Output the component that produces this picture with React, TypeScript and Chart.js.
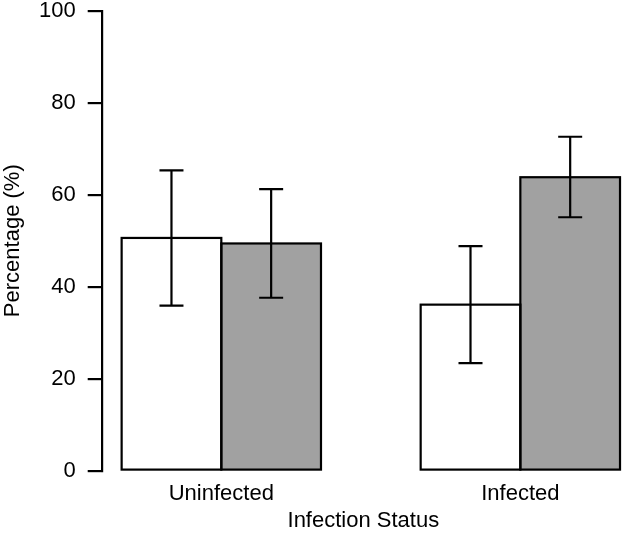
import React, { useEffect, useRef } from "react";
import { Chart, registerables } from "chart.js";

Chart.register(...registerables);

// ---- data ----
const categories = ["Uninfected", "Infected"];
const seriesNames = ["Series 1", "Series 2"];
const whiteMeans = [50.6, 36.1];
const whiteLower = [35.9, 23.4];
const whiteUpper = [65.3, 48.8];
const greyMeans = [49.4, 63.8];
const greyLower = [37.6, 55.1];
const greyUpper = [61.2, 72.6];
const yTickValues = [0, 20, 40, 60, 80, 100];

// ---- layout (R barplot style: bar width 1, one bar of space before each group) ----
const BAR_W = 1;
const GROUP_SPACE = 1;
const X_MIN = 0.8;
const X_MAX = 6.05;

const groupStart = (g: number) => GROUP_SPACE + g * (2 * BAR_W + GROUP_SPACE);
const groupCenters = categories.map((_, g) => groupStart(g) + BAR_W);

const FONT = '"Liberation Sans", Arial, Helvetica, sans-serif';
const FS = 22;
const LINE = 2.2;

const series = [
  { name: seriesNames[0], means: whiteMeans, lower: whiteLower, upper: whiteUpper, color: "#ffffff", slot: 0 },
  { name: seriesNames[1], means: greyMeans, lower: greyLower, upper: greyUpper, color: "#a1a1a1", slot: 1 },
];

const outlinesAndErrors = {
  id: "outlinesAndErrors",
  afterDatasetsDraw(chart: any) {
    const ctx = chart.ctx;
    const yScale = chart.scales.y;
    ctx.save();
    ctx.strokeStyle = "#000";
    ctx.lineWidth = LINE;
    ctx.lineCap = "butt";
    chart.data.datasets.forEach((ds: any, di: number) => {
      const meta = chart.getDatasetMeta(di);
      meta.data.forEach((el: any) => {
        const p = el.getProps(["x", "y", "base", "width"], true);
        const left = p.x - p.width / 2;
        ctx.strokeRect(left, p.y, p.width, p.base - p.y);
      });
    });
    chart.data.datasets.forEach((ds: any, di: number) => {
      const meta = chart.getDatasetMeta(di);
      meta.data.forEach((el: any, i: number) => {
        const p = el.getProps(["x"], true);
        const yl = yScale.getPixelForValue(ds.errLower[i]);
        const yu = yScale.getPixelForValue(ds.errUpper[i]);
        const cap = 12;
        ctx.beginPath();
        ctx.moveTo(p.x, yl);
        ctx.lineTo(p.x, yu);
        ctx.moveTo(p.x - cap, yl);
        ctx.lineTo(p.x + cap, yl);
        ctx.moveTo(p.x - cap, yu);
        ctx.lineTo(p.x + cap, yu);
        ctx.stroke();
      });
    });
    ctx.restore();
  },
};

export default function App() {
  const ref = useRef<HTMLCanvasElement | null>(null);

  useEffect(() => {
    if (!ref.current) return;
    const datasets = series.map((s) => ({
      label: s.name,
      data: s.means.map((v, g) => ({ x: groupStart(g) + s.slot * BAR_W + BAR_W / 2, y: v })),
      errLower: s.lower,
      errUpper: s.upper,
      backgroundColor: s.color,
      borderWidth: 0,
      grouped: false,
      categoryPercentage: 1,
      barPercentage: 1,
    }));

    const chart = new Chart(ref.current, {
      type: "bar",
      data: { datasets } as any,
      options: {
        animation: false,
        responsive: true,
        maintainAspectRatio: false,
        layout: { padding: { top: 10.7, left: 0, right: 0, bottom: 0 } },
        plugins: {
          legend: { display: false },
          tooltip: { enabled: false },
        },
        scales: {
          x: {
            type: "linear",
            min: X_MIN,
            max: X_MAX,
            offset: false,
            grid: { display: false, drawTicks: false },
            border: { display: false },
            afterBuildTicks: (scale: any) => {
              scale.ticks = groupCenters.map((v) => ({ value: v }));
            },
            afterFit: (scale: any) => {
              scale.height = 535 - 470.7;
              scale.paddingLeft = 0;
              scale.paddingRight = 0;
            },
            ticks: {
              autoSkip: false,
              maxRotation: 0,
              padding: 10,
              color: "#000",
              font: { family: FONT, size: FS, lineHeight: 1.2 },
              callback: (_v: any, i: number) => categories[i],
            },
            title: {
              display: true,
              text: "Infection Status",
              color: "#000",
              font: { family: FONT, size: FS, lineHeight: 1.2 },
              padding: { top: 0, bottom: 1 },
            },
          },
          y: {
            type: "linear",
            min: 0,
            max: 100,
            afterBuildTicks: (scale: any) => {
              scale.ticks = yTickValues.map((v) => ({ value: v }));
            },
            afterFit: (scale: any) => {
              scale.width = 101.7;
              scale.paddingTop = 0;
              scale.paddingBottom = 0;
            },
            grid: {
              drawOnChartArea: false,
              drawTicks: true,
              tickLength: 14,
              color: "#000",
              lineWidth: LINE,
            },
            border: { display: true, color: "#000", width: LINE },
            ticks: {
              padding: 12,
              color: "#000",
              font: { family: FONT, size: FS, lineHeight: 1 },
            },
            title: {
              display: true,
              text: "Percentage (%)",
              color: "#000",
              font: { family: FONT, size: FS, lineHeight: 1.2 },
              padding: { top: 0, bottom: 0 },
            },
          },
        },
      } as any,
      plugins: [outlinesAndErrors],
    });
    return () => chart.destroy();
  }, []);

  return (
    <div style={{ position: "fixed", left: 0, top: 0, width: 625, height: 535, background: "#fff" }}>
      <canvas ref={ref} />
    </div>
  );
}
